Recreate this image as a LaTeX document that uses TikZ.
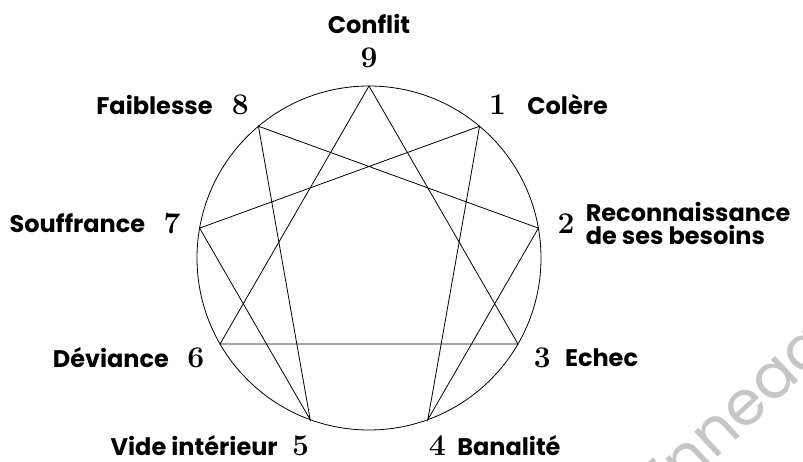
\documentclass[tikz,border=0pt]{standalone}
\usepackage{fontspec}
\newfontfamily\labelfont{Poppins}
\usetikzlibrary{positioning}

\begin{document}
\begin{tikzpicture}[
      x=1pt, y=1pt,
      txt/.style={font=\labelfont\bfseries\fontsize{24}{23}\selectfont, inner sep=0pt},
      num/.style={font=\bfseries\fontsize{30}{30}\selectfont, inner sep=0pt},
      wmark/.style={font=\labelfont\fontsize{62}{62}\selectfont, text=gray!45, inner sep=0pt},
      edge/.style={line width=0.8pt}
    ]
    \useasboundingbox (0,0) rectangle (803,462);
    \coordinate (c) at (369,204);
    \draw[edge] (c) circle (172);

    %% points and numbers
    \foreach \n/\a in {9/90,1/50,2/10,3/-30,4/-70,5/-110,6/-150,7/170,8/130} {
      \coordinate (p\n) at ([shift={(\a:172)}]c);
      \node[num] (n\n) at ([shift={(\a:200)}]c) {\n};
    }

    %% triangle and hexad
    \draw[edge] (p9) -- (p3) -- (p6) -- cycle;
    \draw[edge] (p1) -- (p4) -- (p2) -- (p8) -- (p5) -- (p7) -- cycle;

    %% labels
    \node[txt, above=14pt of n9] (l9) {Conflit};
    \node[txt, right=21pt of n1] (l1) {Colère};
    \node[txt, right=11pt of n2, align=left] (l2) {Reconnaissance\\de ses besoins};
    \node[txt, right=14pt of n3] (l3) {Echec};
    \node[txt, right=11pt of n4] (l4) {Banalité};
    \node[txt, left=14pt of n5] (l5) {Vide intérieur};
    \node[txt, left=18pt of n6] (l6) {Déviance};
    \node[txt, left=18pt of n7] (l7) {Souffrance};
    \node[txt, left=19pt of n8] (l8) {Faiblesse};

    %% watermark
    \node[wmark, rotate=43, anchor=base west] (wm) at (662,-47) {Enneagramme};
  \end{tikzpicture}
\end{document}
